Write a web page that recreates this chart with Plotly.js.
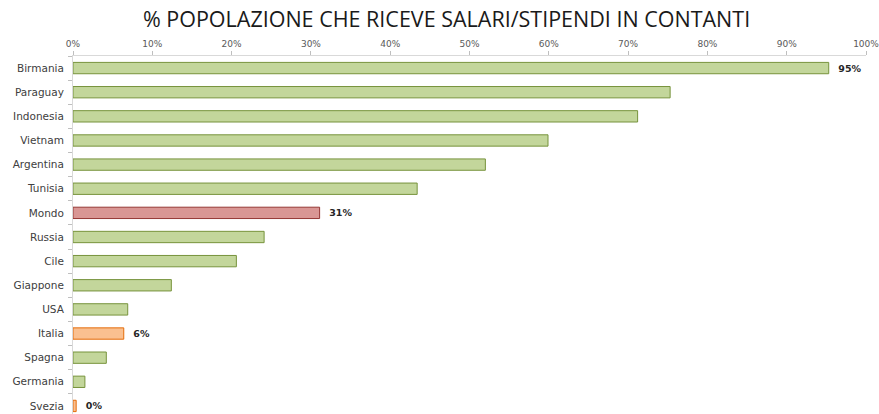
<!DOCTYPE html>
<html>
<head>
<meta charset="utf-8">
<script src="https://cdn.plot.ly/plotly-3.0.1.min.js"></script>
<style>
html,body{margin:0;padding:0;overflow:hidden;background:#fff;}
#chart{width:879px;height:420px;}
</style>
</head>
<body>
<div id="chart"></div>
<script>
const categories = ["Birmania","Paraguay","Indonesia","Vietnam","Argentina","Tunisia","Mondo","Russia","Cile","Giappone","USA","Italia","Spagna","Germania","Svezia"];
const values = [95.3, 75.3, 71.2, 59.9, 52.0, 43.4, 31.1, 24.1, 20.6, 12.4, 6.9, 6.4, 4.2, 1.5, 0.4];
const labeledCategories = ["Birmania","Mondo","Italia","Svezia"];
const worldCategories = ["Mondo"];
const italyGroup = ["Italia","Svezia"];
const xTickLabels = ["0%","10%","20%","30%","40%","50%","60%","70%","80%","90%","100%"];

const fills = categories.map(c => worldCategories.includes(c) ? "#d99694" : (italyGroup.includes(c) ? "#fac090" : "#c3d69b"));
const borders = categories.map(c => worldCategories.includes(c) ? "#953735" : (italyGroup.includes(c) ? "#e46c0a" : "#77933c"));
const texts = categories.map((c,i) => labeledCategories.includes(c) ? "\u00a0\u00a0" + Math.round(values[i]) + "%" : "");

const trace = {
  type: "bar",
  orientation: "h",
  y: categories,
  x: values,
  width: 0.47,
  marker: {color: fills, line: {color: borders, width: 1}},
  text: texts,
  textposition: "outside",
  cliponaxis: false,
  textfont: {family: "DejaVu Sans", size: 9.5, color: "#262626", weight: "bold"},
  hoverinfo: "none"
};

const layout = {
  width: 879, height: 420,
  margin: {l: 73, r: 13, t: 56, b: 2},
  paper_bgcolor: "#fff", plot_bgcolor: "#fff",
  showlegend: false,
  title: {
    text: "% POPOLAZIONE CHE RICEVE SALARI/STIPENDI IN CONTANTI",
    font: {family: "Open Sans", size: 21.5, color: "#1a1a1a"},
    x: 0.508, xanchor: "center", y: 0.953, yanchor: "middle"
  },
  xaxis: {
    side: "top", range: [0, 100],
    tickvals: [0,10,20,30,40,50,60,70,80,90,100],
    ticktext: xTickLabels,
    ticklabeloverflow: "allow",
    showgrid: false, zeroline: false,
    showline: true, linecolor: "#d9d9d9", linewidth: 1,
    ticks: "outside", ticklen: 4, tickcolor: "#bfbfbf",
    tickfont: {family: "DejaVu Sans", size: 9, color: "#595959"},
    fixedrange: true
  },
  yaxis: {
    type: "category", autorange: "reversed",
    showgrid: false, zeroline: false,
    showline: true, linecolor: "#d9d9d9", linewidth: 1,
    ticks: "outside", ticklen: 4, tickcolor: "#bfbfbf", tickson: "boundaries",
    tickfont: {family: "DejaVu Sans", size: 10.5, color: "#404040"},
    ticklabelstandoff: 6,
    fixedrange: true
  }
};

Plotly.newPlot("chart", [trace], layout, {displayModeBar: false, staticPlot: true});
</script>
</body>
</html>
